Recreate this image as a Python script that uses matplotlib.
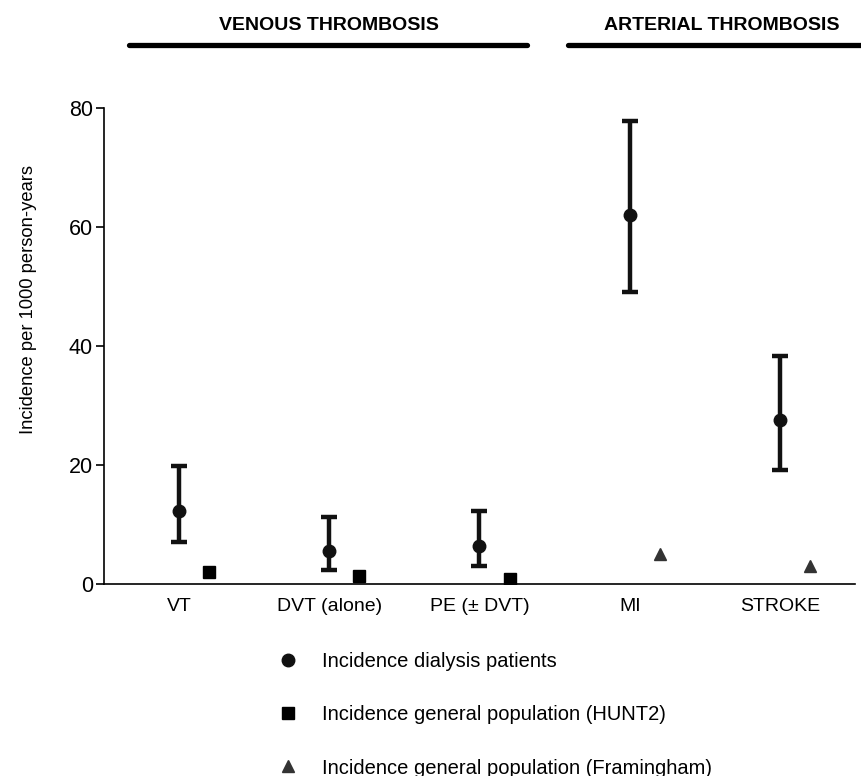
import matplotlib
matplotlib.use("Agg")
import matplotlib.pyplot as plt
from matplotlib.lines import Line2D
import numpy as np

plt.rcParams['font.family'] = ['Liberation Sans', 'DejaVu Sans']

categories = ["VT", "DVT (alone)", "PE (± DVT)", "MI", "STROKE"]
dialysis = [12.2, 5.6, 6.4, 62.0, 27.5]
dialysis_low = [7.1, 2.4, 3.0, 49.0, 19.2]
dialysis_high = [19.8, 11.2, 12.2, 77.8, 38.3]
hunt2 = [2.0, 1.3, 0.8]
framingham = [5.0, 3.1]
yticks = [0, 20, 40, 60, 80]
groups = ["VENOUS THROMBOSIS", "ARTERIAL THROMBOSIS"]
legend_labels = ["Incidence dialysis patients",
                 "Incidence general population (HUNT2)",
                 "Incidence general population (Framingham)"]

fig = plt.figure(figsize=(8.62, 7.76), dpi=100)
ax = fig.add_axes([104/862, 1-584/776, 751/862, 476/776])

x = np.arange(len(categories))
d = np.array(dialysis)
yerr = [d - np.array(dialysis_low), np.array(dialysis_high) - d]
ax.errorbar(x, d, yerr=yerr, fmt='o', color='#111111', ms=9, lw=3.2,
            capsize=5.5, capthick=3.2, zorder=3)

off = 0.2
ax.plot(x[:3] + off, hunt2, 's', color='black', ms=9, zorder=3)
ax.plot(x[3:] + off, framingham, '^', color='#333333', ms=8.5, zorder=3)

ax.set_xlim(-0.5, 4.5)
ax.set_ylim(0, 80)
ax.set_yticks(yticks)
ax.set_xticks(x)
ax.set_xticklabels(categories, fontsize=14)
ax.tick_params(axis='x', length=0, pad=10)
ax.tick_params(axis='y', length=6, width=1.2, labelsize=15.5, pad=2)
for s in ['top', 'right']:
    ax.spines[s].set_visible(False)
for s in ['left', 'bottom']:
    ax.spines[s].set_linewidth(1.2)
ax.set_ylabel("Incidence per 1000 person-years", fontsize=13.2)
ax.yaxis.set_label_coords(-0.089, 0.597)

# group headers
line_spans = [(129, 527), (568, 870)]
text_centers = [329, 722]
for g, (a, b), c in zip(groups, line_spans, text_centers):
    fig.add_artist(Line2D([a/862, b/862], [1-45/776, 1-45/776], lw=3.8,
                          color='black', solid_capstyle='round',
                          transform=fig.transFigure))
    fig.text(c/862, 1-25/776, g, ha='center', va='center', fontsize=14,
             fontweight='bold')

handles = [Line2D([], [], marker='o', ls='none', color='#111111', ms=9),
           Line2D([], [], marker='s', ls='none', color='black', ms=8),
           Line2D([], [], marker='^', ls='none', color='#333333', ms=8)]
fig.legend(handles, legend_labels, loc='upper left',
           bbox_to_anchor=(270/862, 1-644/776), frameon=False,
           fontsize=14.5, labelspacing=1.7, handletextpad=1.2,
           handlelength=1.0, borderaxespad=0)

fig.savefig("out.png", dpi=100)
